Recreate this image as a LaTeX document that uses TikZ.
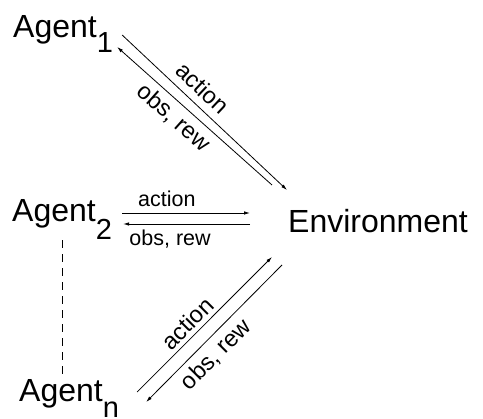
\documentclass[tikz,border=0pt]{standalone}
\usepackage{fontspec}
\setmainfont{Liberation Sans}
\usetikzlibrary{arrows.meta}

\newcommand{\agentname}[2]{Agent\raisebox{-#2pt}{\fontsize{29}{29}\selectfont #1}}

\begin{document}
\begin{tikzpicture}[x=1pt, y=-1pt,
    big/.style={inner sep=0pt, anchor=base west, font=\fontsize{32}{32}\selectfont},
    msg/.style={-{Latex[length=6pt,width=3.5pt]}, line width=0.8pt},
    lbl/.style={inner sep=0pt, sloped, font=\fontsize{21.5}{21.5}\selectfont},
    dlbl/.style={lbl, font=\fontsize{23.5}{23.5}\selectfont}]
  \useasboundingbox (0,0) rectangle (483,419);

  \node[big] (agentA) at (13,38) {\agentname{1}{15}};
  \node[big] (agentB) at (12,222) {\agentname{2}{18}};
  \node[big] (agentN) at (19,402) {\agentname{n}{16}};
  \node[big] (env) at (288,233) {Environment};

  % agent 1
  \draw[msg] ([shift={(9,-3)}]agentA.base east) -- ([shift={(-1,-43)}]env.base west)
    node[dlbl, pos=0.42, above=7.5pt] {action};
  \draw[msg] ([shift={(-16,-48)}]env.base west) -- ([shift={(4,9)}]agentA.base east)
    node[dlbl, pos=0.57, below=5pt] {obs, rew};

  % agent 2
  \draw[msg] ([shift={(10,-9)}]agentB.base east) -- ([shift={(-38,-20)}]env.base west)
    node[lbl, pos=0.35, above=6pt] {action};
  \draw[msg] ([shift={(-38,-9)}]env.base west) -- ([shift={(11,2)}]agentB.base east)
    node[lbl, pos=0.63, below=5.5pt] {obs, rew};

  % agent n
  \draw[msg] ([shift={(18,-10)}]agentN.base east) -- ([shift={(-16,24)}]env.base west)
    node[dlbl, pos=0.44, above=4pt] {action};
  \draw[msg] ([shift={(-6,32)}]env.base west) -- ([shift={(27,0)}]agentN.base east)
    node[dlbl, pos=0.57, below=6pt] {obs, rew};

  \draw[line width=0.8pt, dash pattern=on 8pt off 6pt] (agentB.south) -- (agentB.south |- agentN.north);
\end{tikzpicture}
\end{document}
